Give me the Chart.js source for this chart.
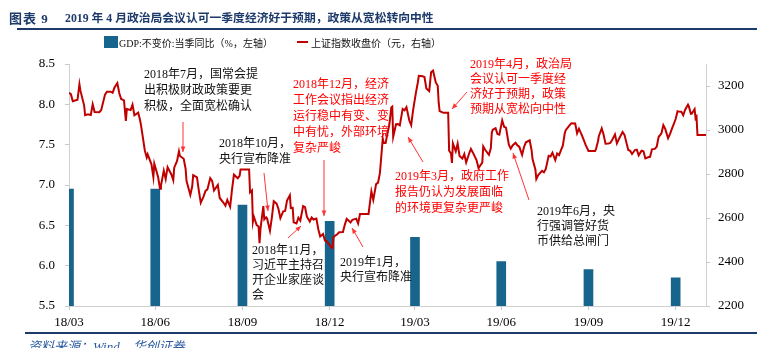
<!DOCTYPE html>
<html>
<head>
<meta charset="utf-8">
<script src="https://cdn.jsdelivr.net/npm/chart.js@4.4.1/dist/chart.umd.min.js"></script>
<style>
  html, body { margin: 0; padding: 0; background: #fff; }
  #wrap { position: relative; width: 757px; height: 348px; overflow: hidden; }
  #c { position: absolute; left: 0; top: 0; }
  .abs { position: absolute; white-space: nowrap; }
  .title { top: 8px; font: bold 11.8px "Liberation Serif", "Noto Sans CJK SC", serif; color: #1d3a6b; }
  #topline { left: 17px; top: 28px; width: 740px; height: 2px; background: #1d3a6b; }
  #botline { left: 25px; top: 332px; width: 732px; height: 2px; background: #1d3a6b; }
  #source { left: 28px; top: 336px; font: italic 13px "Liberation Serif", "Noto Sans CJK SC", serif; color: #2b5aa0; }
  .leg { top: 35px; font: 10px "Liberation Serif", "Noto Sans CJK SC", serif; color: #111; }
</style>
</head>
<body>
<div id="wrap">
  <canvas id="c" width="757" height="348"></canvas>
  <div class="abs title" style="left:9px;font-size:13px;letter-spacing:1px">图表 9</div>
  <div class="abs title" style="left:65px">2019 年 4 月政治局会议认可一季度经济好于预期，政策从宽松转向中性</div>
  <div id="topline" class="abs"></div>
  <div class="abs" style="left:104px;top:36px;width:14px;height:12px;background:#17648c"></div>
  <div class="abs leg" style="left:119px">GDP:不变价:当季同比（%，左轴）</div>
  <div class="abs" style="left:297px;top:41px;width:11px;height:2px;background:#c00000"></div>
  <div class="abs leg" style="left:311px">上证指数收盘价（元，右轴）</div>
  <div id="botline" class="abs"></div>
  <div id="source" class="abs">资料来源：Wind，华创证券</div>
</div>
<script>
// quarterly GDP bars (left axis)
const quarterDates = ['2018-03-31', '2018-06-30', '2018-09-30', '2018-12-31', '2019-03-31', '2019-06-30', '2019-09-30', '2019-12-31'];
const quarterLabels = ['18/03', '18/06', '18/09', '18/12', '19/03', '19/06', '19/09', '19/12'];
const gdpValues = [6.95, 6.95, 6.75, 6.55, 6.35, 6.05, 5.95, 5.85];

// Shanghai composite close (right axis), holidays held flat
const indexDates = [
  '2018-03-31', '2018-04-02', '2018-04-04', '2018-04-09', '2018-04-11', '2018-04-12', '2018-04-16', '2018-04-17',
  '2018-04-20', '2018-04-23', '2018-04-25', '2018-04-27', '2018-05-02', '2018-05-04', '2018-05-08', '2018-05-10',
  '2018-05-14', '2018-05-16', '2018-05-18', '2018-05-21', '2018-05-23', '2018-05-25', '2018-05-28', '2018-05-30',
  '2018-05-31', '2018-06-04', '2018-06-06', '2018-06-08', '2018-06-12', '2018-06-14', '2018-06-15', '2018-06-19',
  '2018-06-21', '2018-06-22', '2018-06-26', '2018-06-28', '2018-06-29', '2018-07-03', '2018-07-05', '2018-07-06',
  '2018-07-09', '2018-07-11', '2018-07-13', '2018-07-17', '2018-07-19', '2018-07-20', '2018-07-23', '2018-07-25',
  '2018-07-26', '2018-07-30', '2018-08-01', '2018-08-02', '2018-08-06', '2018-08-08', '2018-08-09', '2018-08-13',
  '2018-08-15', '2018-08-17', '2018-08-20', '2018-08-22', '2018-08-24', '2018-08-27', '2018-08-29', '2018-08-31',
  '2018-09-04', '2018-09-06', '2018-09-10', '2018-09-12', '2018-09-14', '2018-09-17', '2018-09-19', '2018-09-21',
  '2018-09-25', '2018-09-27', '2018-09-28', '2018-10-07', '2018-10-08', '2018-10-10', '2018-10-11', '2018-10-12',
  '2018-10-15', '2018-10-17', '2018-10-18', '2018-10-19', '2018-10-22', '2018-10-23', '2018-10-25', '2018-10-26',
  '2018-10-29', '2018-10-31', '2018-11-02', '2018-11-05', '2018-11-07', '2018-11-09', '2018-11-12', '2018-11-14',
  '2018-11-16', '2018-11-19', '2018-11-20', '2018-11-22', '2018-11-23', '2018-11-26', '2018-11-28', '2018-11-30',
  '2018-12-03', '2018-12-05', '2018-12-07', '2018-12-10', '2018-12-12', '2018-12-14', '2018-12-17', '2018-12-19',
  '2018-12-21', '2018-12-24', '2018-12-26', '2018-12-28', '2019-01-02', '2019-01-03', '2019-01-04', '2019-01-08',
  '2019-01-10', '2019-01-14', '2019-01-16', '2019-01-18', '2019-01-22', '2019-01-24', '2019-01-28', '2019-01-30',
  '2019-02-01', '2019-02-10', '2019-02-11', '2019-02-13', '2019-02-15', '2019-02-18', '2019-02-20', '2019-02-22',
  '2019-02-25', '2019-02-26', '2019-02-28', '2019-03-04', '2019-03-06', '2019-03-07', '2019-03-08', '2019-03-11',
  '2019-03-13', '2019-03-15', '2019-03-18', '2019-03-20', '2019-03-22', '2019-03-25', '2019-03-27', '2019-03-29',
  '2019-04-01', '2019-04-03', '2019-04-04', '2019-04-08', '2019-04-10', '2019-04-12', '2019-04-15', '2019-04-17',
  '2019-04-19', '2019-04-22', '2019-04-24', '2019-04-25', '2019-04-26', '2019-04-30', '2019-05-05', '2019-05-06',
  '2019-05-08', '2019-05-09', '2019-05-10', '2019-05-13', '2019-05-15', '2019-05-17', '2019-05-20', '2019-05-22',
  '2019-05-24', '2019-05-27', '2019-05-29', '2019-05-31', '2019-06-04', '2019-06-06', '2019-06-10', '2019-06-11',
  '2019-06-13', '2019-06-17', '2019-06-19', '2019-06-20', '2019-06-21', '2019-06-24', '2019-06-26', '2019-06-28',
  '2019-07-01', '2019-07-03', '2019-07-05', '2019-07-08', '2019-07-10', '2019-07-12', '2019-07-15', '2019-07-17',
  '2019-07-19', '2019-07-22', '2019-07-24', '2019-07-26', '2019-07-30', '2019-08-01', '2019-08-02', '2019-08-05',
  '2019-08-06', '2019-08-08', '2019-08-12', '2019-08-14', '2019-08-16', '2019-08-19', '2019-08-21', '2019-08-23',
  '2019-08-26', '2019-08-28', '2019-08-30', '2019-09-03', '2019-09-05', '2019-09-06', '2019-09-10', '2019-09-12',
  '2019-09-16', '2019-09-18', '2019-09-20', '2019-09-23', '2019-09-25', '2019-09-27', '2019-09-30', '2019-10-07',
  '2019-10-08', '2019-10-10', '2019-10-11', '2019-10-14', '2019-10-16', '2019-10-18', '2019-10-21', '2019-10-23',
  '2019-10-25', '2019-10-28', '2019-10-30', '2019-11-01', '2019-11-05', '2019-11-07', '2019-11-11', '2019-11-13',
  '2019-11-15', '2019-11-18', '2019-11-20', '2019-11-22', '2019-11-25', '2019-11-27', '2019-11-29', '2019-12-02',
  '2019-12-04', '2019-12-06', '2019-12-09', '2019-12-11', '2019-12-13', '2019-12-16', '2019-12-18', '2019-12-20',
  '2019-12-23', '2019-12-25', '2019-12-27', '2019-12-31', '2020-01-02', '2020-01-03', '2020-01-06', '2020-01-08',
  '2020-01-10', '2020-01-13', '2020-01-14', '2020-01-15', '2020-01-16', '2020-01-17', '2020-01-20', '2020-01-21',
  '2020-01-22', '2020-01-23', '2020-02-01'
];
const indexValues = [
  3169, 3163, 3131, 3138, 3208, 3180, 3111, 3067,
  3071, 3068, 3117, 3082, 3081, 3091, 3161, 3174,
  3174, 3169, 3193, 3213, 3168, 3141, 3135, 3041,
  3095, 3091, 3115, 3067, 3079, 3044, 3021, 2907,
  2875, 2889, 2844, 2786, 2847, 2786, 2733, 2747,
  2815, 2777, 2831, 2798, 2772, 2829, 2859, 2903,
  2882, 2869, 2824, 2768, 2705, 2744, 2795, 2785,
  2723, 2669, 2698, 2723, 2730, 2781, 2769, 2725,
  2750, 2691, 2669, 2656, 2682, 2651, 2730, 2797,
  2781, 2792, 2821, 2821, 2716, 2725, 2583, 2606,
  2568, 2561, 2486, 2550, 2654, 2594, 2603, 2598,
  2542, 2602, 2676, 2665, 2641, 2599, 2630, 2632,
  2679, 2703, 2645, 2646, 2580, 2575, 2601, 2588,
  2654, 2649, 2606, 2584, 2602, 2593, 2597, 2549,
  2516, 2527, 2498, 2494, 2465, 2464, 2514, 2526,
  2535, 2536, 2570, 2596, 2580, 2592, 2597, 2575,
  2618, 2618, 2653, 2721, 2682, 2754, 2761, 2804,
  2961, 2941, 2941, 3027, 3102, 3106, 2969, 3026,
  3027, 3021, 3096, 3090, 3104, 3043, 3022, 3090,
  3170, 3216, 3246, 3244, 3241, 3189, 3177, 3263,
  3270, 3215, 3201, 3124, 3086, 3078, 3078, 2906,
  2893, 2850, 2939, 2903, 2938, 2882, 2870, 2891,
  2852, 2892, 2914, 2898, 2862, 2827, 2852, 2925,
  2910, 2887, 2917, 2987, 3001, 3008, 2982, 2979,
  3044, 3015, 3011, 2933, 2915, 2930, 2942, 2931,
  2924, 2887, 2923, 2944, 2953, 2908, 2868, 2821,
  2777, 2795, 2814, 2808, 2823, 2883, 2880, 2897,
  2863, 2893, 2886, 2930, 2985, 2999, 3021, 3031,
  3030, 2985, 3006, 2977, 2955, 2932, 2905, 2905,
  2914, 2948, 2973, 3007, 2978, 2938, 2939, 2941,
  2955, 2980, 2939, 2958, 2991, 2978, 2909, 2905,
  2891, 2909, 2911, 2885, 2906, 2903, 2871, 2876,
  2878, 2912, 2914, 2924, 2968, 2985, 3022, 3005,
  2963, 2981, 3005, 3050, 3085, 3084, 3083, 3067,
  3092, 3115, 3106, 3090, 3074, 3075, 3095, 3053,
  3060, 2977, 2977
];

// text notes drawn over the plot
const notes = [
  { lines: ['2018年7月，国常会提', '出积极财政政策要更', '积极，全面宽松确认'], color: '#111', x: 144, y: 75, lh: 16, arrow: [183, 122, 183, 152] },
  { lines: ['2018年10月，', '央行宣布降准'], color: '#111', x: 219, y: 144, lh: 15.5, arrow: [264, 173, 268, 211] },
  { lines: ['2018年12月，经济', '工作会议指出经济', '运行稳中有变、变', '中有忧，外部环境', '复杂严峻'], color: '#f00', x: 293, y: 85, lh: 16, arrow: [324, 160, 324, 216] },
  { lines: ['2019年3月，政府工作', '报告仍认为发展面临', '的环境更复杂更严峻'], color: '#f00', x: 395, y: 177, lh: 16, arrow: [423, 162, 408, 137] },
  { lines: ['2019年4月，政治局', '会议认可一季度经', '济好于预期，政策', '预期从宽松向中性'], color: '#f00', x: 470, y: 65, lh: 15, arrow: [467, 92, 452, 109] },
  { lines: ['2019年6月，央', '行强调管好货', '币供给总闸门'], color: '#111', x: 537, y: 212, lh: 15, arrow: [529, 200, 513, 153] },
  { lines: ['2018年11月，', '习近平主持召', '开企业家座谈', '会'], color: '#111', x: 252, y: 251, lh: 15, arrow: [288, 238, 301, 226] },
  { lines: ['2019年1月，', '央行宣布降准'], color: '#111', x: 340, y: 263, lh: 15, arrow: [363, 247, 352, 228] }
];

const dayOf = function (s) {
  const p = s.split('-').map(Number);
  return (Date.UTC(p[0], p[1] - 1, p[2]) - Date.UTC(2018, 2, 31)) / 86400000;
};

const tickDays = quarterDates.map(dayOf);
const gdpData = quarterDates.map((d, i) => ({ x: dayOf(d), y: gdpValues[i] }));
const indexData = indexDates.map((d, i) => ({ x: dayOf(d), y: indexValues[i] }));

const FONT = '"Liberation Serif", "Noto Sans CJK SC", serif';

const notesPlugin = {
  id: 'notes',
  afterDatasetsDraw(chart) {
    const ctx = chart.ctx;
    ctx.save();
    notes.forEach(function (n) {
      ctx.font = '12px ' + FONT;
      ctx.fillStyle = n.color;
      ctx.textBaseline = 'middle';
      n.lines.forEach(function (t, i) {
        ctx.fillText(t, n.x, n.y + i * n.lh);
      });
      const [x1, y1, x2, y2] = n.arrow;
      ctx.strokeStyle = '#f33';
      ctx.fillStyle = '#f33';
      ctx.lineWidth = 1;
      ctx.beginPath();
      ctx.moveTo(x1, y1);
      ctx.lineTo(x2, y2);
      ctx.stroke();
      const a = Math.atan2(y2 - y1, x2 - x1);
      ctx.beginPath();
      ctx.moveTo(x2, y2);
      ctx.lineTo(x2 - 6 * Math.cos(a - 0.4), y2 - 6 * Math.sin(a - 0.4));
      ctx.lineTo(x2 - 6 * Math.cos(a + 0.4), y2 - 6 * Math.sin(a + 0.4));
      ctx.closePath();
      ctx.fill();
    });
    ctx.restore();
  }
};

new Chart(document.getElementById('c'), {
  type: 'bar',
  data: {
    datasets: [
      {
        type: 'line',
        data: indexData,
        yAxisID: 'y1',
        borderColor: '#c00000',
        borderWidth: 2,
        pointRadius: 0,
        tension: 0,
        order: 0
      },
      {
        type: 'bar',
        data: gdpData,
        yAxisID: 'y',
        backgroundColor: '#17648c',
        barThickness: 9,
        order: 1
      }
    ]
  },
  options: {
    responsive: false,
    animation: false,
    layout: { padding: { top: 64, bottom: 12, left: 0, right: 0 } },
    plugins: { legend: { display: false }, tooltip: { enabled: false } },
    scales: {
      x: {
        type: 'linear',
        offset: false,
        min: 0,
        max: 672,
        afterBuildTicks: function (scale) {
          scale.ticks = tickDays.map(v => ({ value: v }));
        },
        afterFit: function (scale) { scale.height = 30; },
        ticks: {
          autoSkip: false,
          maxRotation: 0,
          padding: 5,
          color: '#000',
          font: { family: FONT, size: 13 },
          callback: function (v) {
            const i = tickDays.indexOf(v);
            return i >= 0 ? quarterLabels[i] : '';
          }
        },
        grid: { drawOnChartArea: false, tickLength: 4, color: '#c8c8c8', offset: false },
        border: { color: '#d0d0d0' }
      },
      y: {
        position: 'left',
        min: 5.5,
        max: 8.5,
        afterFit: function (scale) { scale.width = 69; },
        ticks: {
          stepSize: 0.5,
          padding: 10,
          color: '#000',
          font: { family: FONT, size: 13 },
          callback: v => v.toFixed(1)
        },
        grid: { drawOnChartArea: false, tickLength: 4, color: '#c8c8c8' },
        border: { color: '#d0d0d0' }
      },
      y1: {
        position: 'right',
        min: 2200,
        max: 3300,
        afterFit: function (scale) { scale.width = 51; },
        afterBuildTicks: function (scale) {
          scale.ticks = scale.ticks.filter(t => t.value <= 3200);
        },
        ticks: {
          stepSize: 200,
          padding: 8,
          color: '#000',
          font: { family: FONT, size: 13 },
          callback: v => String(v)
        },
        grid: { drawOnChartArea: false, tickLength: 4, color: '#c8c8c8' },
        border: { color: '#d0d0d0' }
      }
    }
  },
  plugins: [notesPlugin]
});
</script>
</body>
</html>
